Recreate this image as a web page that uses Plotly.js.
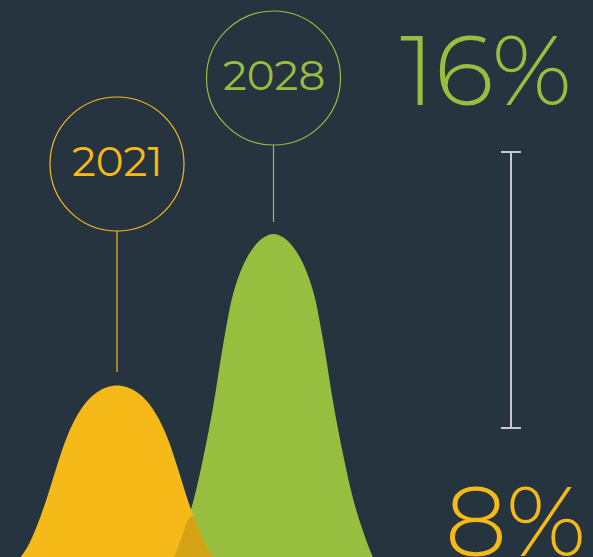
<!DOCTYPE html>
<html><head><meta charset="utf-8">
<script src="https://cdn.plot.ly/plotly-3.0.1.min.js"></script>
<style>html,body{margin:0;padding:0;background:#263440;overflow:hidden}#chart{width:593px;height:557px;}</style>
</head><body><div id="chart"></div>
<script>
const years = ['2021', '2028'];
const shareLabels = ['8%', '16%'];
const x2021 = [-3, 7, 17, 27, 37, 47, 57, 67, 77, 87, 97, 107, 117, 127, 137, 147, 157, 167, 177, 187, 197, 207, 217, 227, 237];
const h2021 = [-23.7, -15.7, -4.7, 9.3, 31.3, 59.3, 91.3, 120.3, 141.3, 155.8, 164.8, 169.8, 171.5, 169.8, 164.8, 155.8, 141.3, 120.3, 91.3, 59.3, 31.3, 9.3, -4.7, -15.7, -23.7];
const x2028 = [153.5, 163.5, 173.5, 183.5, 193.5, 203.5, 213.5, 223.5, 233.5, 243.5, 253.5, 263.5, 273.5, 283.5, 293.5, 303.5, 313.5, 323.5, 333.5, 343.5, 353.5, 363.5, 373.5, 383.5, 393.5];
const h2028 = [-33.5, -20.5, -1.5, 24.5, 56.5, 100.5, 152.5, 214.5, 264.5, 292.5, 309.5, 319.5, 323, 319.5, 309.5, 292.5, 264.5, 214.5, 152.5, 100.5, 56.5, 24.5, -1.5, -20.5, -33.5];
const rangeTop = 405, rangeBottom = 129; // range marker ends

// ---- styles ----
const BG = '#263440', YEL = '#F5B918', GRN = '#97BE3F', OVL = '#D5A316', GREY = '#C4C9CE';
const FONT = 'Montserrat, Lato, "Open Sans", sans-serif';

function lerp(xs, ys, x) {
  for (let i = 0; i < xs.length - 1; i++) {
    if (x >= xs[i] && x <= xs[i + 1]) {
      const t = (x - xs[i]) / (xs[i + 1] - xs[i]);
      return ys[i] + t * (ys[i + 1] - ys[i]);
    }
  }
  return null;
}
// overlap region = lower of the two curves where both exist
const lo = Math.max(x2021[0], x2028[0]), hi = Math.min(x2021[x2021.length - 1], x2028[x2028.length - 1]);
const ox = Array.from(new Set(x2021.concat(x2028))).filter(v => v >= lo && v <= hi).sort((a, b) => a - b);
const oy = ox.map(v => Math.min(lerp(x2021, h2021, v), lerp(x2028, h2028, v)));

function peak(xs, ys) { let k = 0; ys.forEach((v, i) => { if (v > ys[k]) k = i; }); return [xs[k], ys[k]]; }
const p1 = peak(x2021, h2021), p2 = peak(x2028, h2028);

const area = (x, y, c) => ({ x, y, type: 'scatter', mode: 'lines', line: { shape: 'spline', color: c, width: 0, smoothing: 1 }, fill: 'tozeroy', fillcolor: c, hoverinfo: 'skip', showlegend: false });

const traces = [
  area(x2028, h2028, GRN),
  area(x2021, h2021, YEL),
  area(ox, oy, OVL),
  { x: [511], y: [(rangeTop + rangeBottom) / 2], type: 'scatter', mode: 'markers', marker: { size: 1, opacity: 0 },
    error_y: { type: 'data', symmetric: true, array: [(rangeTop - rangeBottom) / 2], width: 10, thickness: 2, color: GREY },
    hoverinfo: 'skip', showlegend: false }
];

const R = 67;
const bubbles = [[p1, YEL, 221.5, 13.5, years[0]], [p2, GRN, 156, 12, years[1]]];
const shapes = [], annotations = [];
bubbles.forEach(([p, c, dy, gap, label]) => {
  const cy = p[1] + dy;
  shapes.push({ type: 'circle', xref: 'x', yref: 'y', x0: p[0] - R, x1: p[0] + R, y0: cy - R, y1: cy + R, line: { color: c, width: 1.2 } });
  shapes.push({ type: 'line', xref: 'x', yref: 'y', x0: p[0], x1: p[0], y0: cy - R, y1: p[1] + gap, line: { color: c, width: 1.2 } });
  annotations.push({ x: p[0], y: cy + 3, xref: 'x', yref: 'y', text: label, showarrow: false, xanchor: 'center', yanchor: 'middle',
    font: { family: FONT, size: 42, color: c, weight: 400 } });
});
annotations.push({ x: 486, y: 487, xref: 'x', yref: 'y', text: shareLabels[1], showarrow: false, xanchor: 'center', yanchor: 'middle',
  font: { family: FONT, size: 98, color: GRN, weight: 300 } });
annotations.push({ x: 515, y: 36, xref: 'x', yref: 'y', text: shareLabels[0], showarrow: false, xanchor: 'center', yanchor: 'middle',
  font: { family: FONT, size: 98, color: YEL, weight: 300 } });

const layout = {
  width: 593, height: 557, margin: { l: 0, r: 0, t: 0, b: 0, pad: 0 },
  paper_bgcolor: BG, plot_bgcolor: BG, showlegend: false,
  xaxis: { range: [0, 593], visible: false, fixedrange: true },
  yaxis: { range: [0, 557], visible: false, fixedrange: true },
  shapes, annotations
};
Plotly.newPlot('chart', traces, layout, { displayModeBar: false, staticPlot: true });
</script>
</body></html>
